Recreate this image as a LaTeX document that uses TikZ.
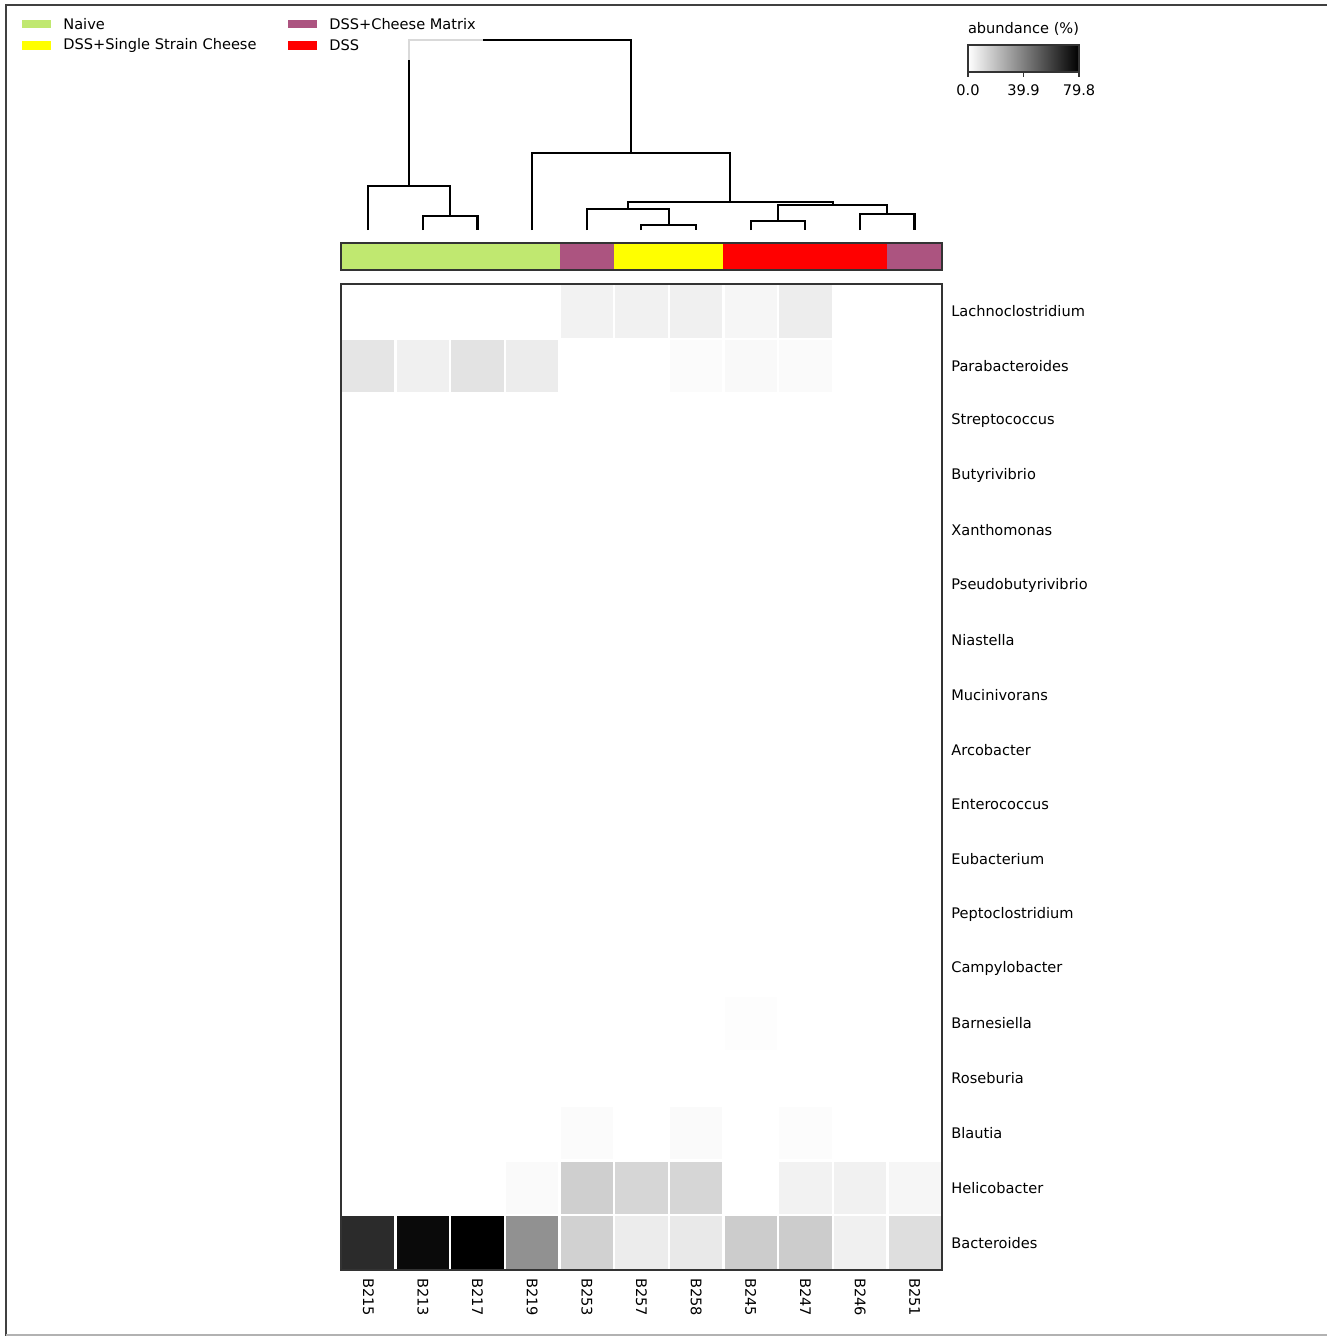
\documentclass[tikz,border=0pt]{standalone}
\usepackage{fontspec}
\setmainfont{DejaVu Sans}
\definecolor{grpNaive}{RGB}{192,232,112}
\definecolor{grpMatrix}{RGB}{172,84,128}
\definecolor{grpSingle}{RGB}{255,255,0}
\definecolor{grpDss}{RGB}{255,0,0}
\begin{document}
\begin{tikzpicture}[x=0.02cm, y=-0.02cm,
    every node/.style={font=\fontsize{8.3}{10}\selectfont, inner sep=0pt},
    dendro/.style={line width=1.3pt, black},
    rowlabel/.style={anchor=west},
    samplelabel/.style={anchor=west, rotate=-90},
    swatch/.style={minimum width=29*0.02cm, minimum height=8.5*0.02cm}]
    \useasboundingbox (0,0) rectangle (1327,1336);
    % frame
    \draw[line width=1.2pt, black!75] (1327,5) -- (6,5) -- (6,1336);
    \draw[line width=0.8pt, black!30] (6,1335) -- (1327,1335);

    % legend
    \node[swatch, fill=grpNaive] (swNaive) at (36,24) {};
    \node[right] (lgNaive) at (63,24) {Naive};
    \node[swatch, fill=grpSingle] (swSingle) at (36,45.5) {};
    \node[right] (lgSingle) at (63,45.5) {DSS+Single Strain Cheese};
    \node[swatch, fill=grpMatrix] (swMatrix) at (302,24) {};
    \node[right] (lgMatrix) at (329,24) {DSS+Cheese Matrix};
    \node[swatch, fill=grpDss] (swDss) at (302,45.5) {};
    \node[right] (lgDss) at (329,45.5) {DSS};

    % colour scale
    \node (cbTitle) at (1023.5,29) {abundance (\%)};
    \shade[left color=white, right color=black] (968,45) rectangle (1079,72);
    \draw[line width=0.6pt, black!80] (968,45) rectangle (1079,72);
    \foreach \x/\v in {968/0.0, 1023.5/39.9, 1079/79.8} {
        \draw[line width=0.6pt, black!80] (\x,72) -- (\x,77);
        \node (cb\v) at (\x,90) {\v};
    }

    % dendrogram
    \draw[line width=1.3pt, black!15] (409,60) -- (409,40) -- (483,40);
    \draw[dendro] (483,40) -- (631,40) -- (631,153);
    \draw[dendro] (409,60) -- (409,186);
    \draw[dendro] (368,230) -- (368,186) -- (450,186) -- (450,216);
    \draw[dendro] (423,230) -- (423,216) -- (477.5,216) -- (477.5,230);
    \draw[dendro] (532,230) -- (532,153) -- (730,153) -- (730,202);
    \draw[dendro] (628,209) -- (628,202) -- (833,202) -- (833,205);
    \draw[dendro] (587,230) -- (587,209) -- (669,209) -- (669,225);
    \draw[dendro] (641,230) -- (641,225) -- (696,225) -- (696,230);
    \draw[dendro] (778,221) -- (778,205) -- (887,205) -- (887,214);
    \draw[dendro] (751,230) -- (751,221) -- (805,221) -- (805,230);
    \draw[dendro] (860,230) -- (860,214) -- (914.5,214) -- (914.5,230);

    % group colour bar
    \fill[grpNaive] (341,243) rectangle (559.5,270);
    \fill[grpMatrix] (559.5,243) rectangle (614,270);
    \fill[grpSingle] (614,243) rectangle (723,270);
    \fill[grpDss] (723,243) rectangle (887,270);
    \fill[grpMatrix] (887,243) rectangle (942,270);
    \draw[line width=0.7pt, black!80] (341,243) rectangle (942,270);

    % heatmap cells (percent white)
    \foreach \r/\vals in {
        0/{100,100,100,100,95,94.5,94,96.5,93,100,100},
        1/{90,94,89,92.5,100,100,98.5,97.5,98,100,100},
        13/{100,100,100,100,100,100,100,99.3,100,100,100},
        15/{100,100,100,100,98.5,100,98,100,99,100,100},
        16/{100,100,100,98,81,84,84,100,95,94.5,96.5},
        17/{17,4,0,57,82,92.5,91.5,80,80,94,87}} {
        \foreach \v [count=\c from 0] in \vals {
            \fill[white!\v!black] ({341+\c*54.64+1.2},{284+\r*54.78+1.2}) rectangle ++(52.2,52.4);
        }
    }
    \draw[line width=0.9pt, black!80] (341,284) rectangle (942,1270);

    % row labels
    \foreach \name [count=\j from 0] in {Lachnoclostridium, Parabacteroides,
        Streptococcus, Butyrivibrio, Xanthomonas, Pseudobutyrivibrio, Niastella,
        Mucinivorans, Arcobacter, Enterococcus, Eubacterium, Peptoclostridium,
        Campylobacter, Barnesiella, Roseburia, Blautia, Helicobacter, Bacteroides} {
        \node[rowlabel] (row\j) at (951,{284+(\j+0.5)*54.78}) {\name};
    }

    % sample labels
    \foreach \s [count=\i from 0] in {B215, B213, B217, B219, B253, B257, B258,
        B245, B247, B246, B251} {
        \node[samplelabel] (smp\s) at ({341+(\i+0.5)*54.64},1278) {\s};
    }
\end{tikzpicture}
\end{document}
